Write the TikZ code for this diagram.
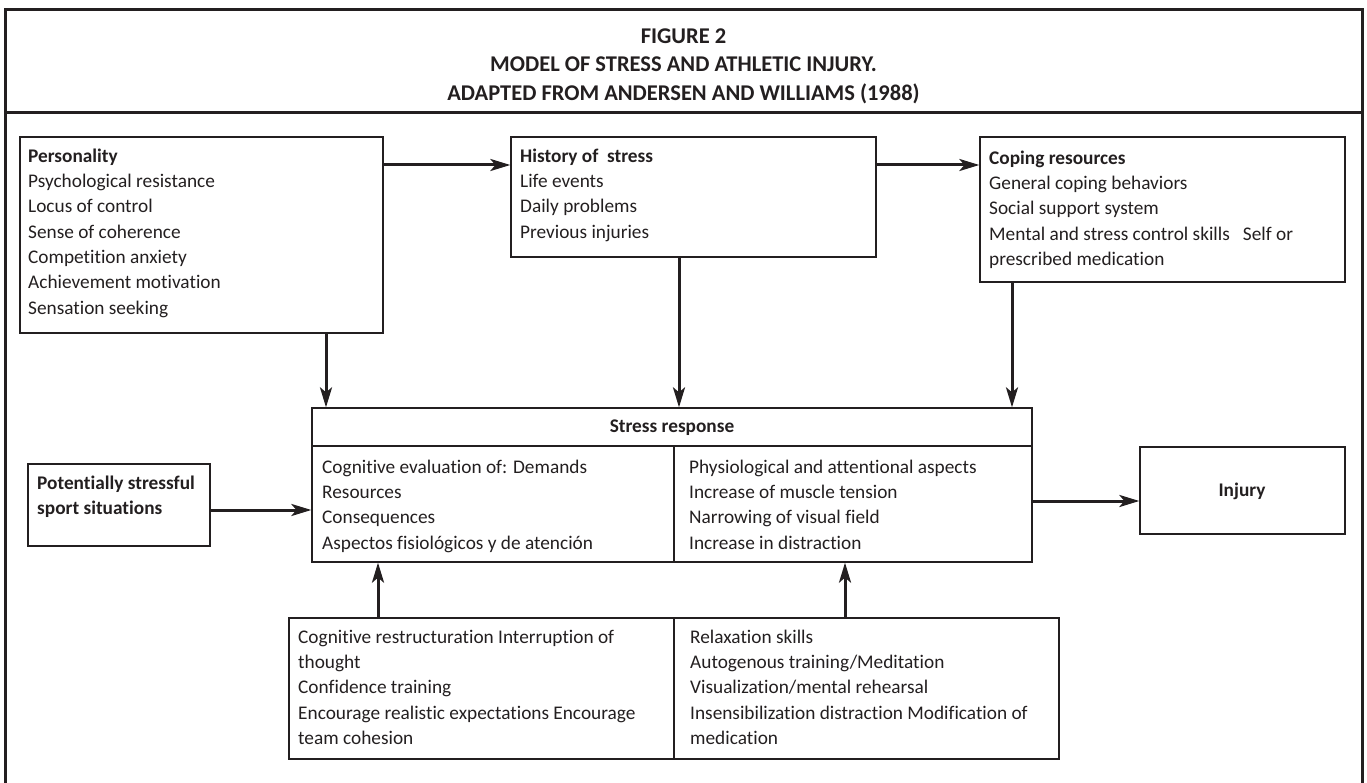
\documentclass[tikz,border=0pt]{standalone}
\usepackage{fontspec}
\setmainfont{Carlito}[Ligatures={NoCommon,NoContextual}]
\usetikzlibrary{arrows.meta,fit,calc}
\definecolor{ink}{HTML}{231F20}
\newcommand{\bodyfnt}{\fontsize{19.3}{25.3}\selectfont}
\newcommand{\ttlfnt}{\fontsize{22.5}{28.5}\selectfont\bfseries}
\tikzset{
  box/.style={draw=ink, line width=1.3pt, inner sep=0pt, fill=none},
  txt/.style={inner sep=0pt, align=left, anchor=north west, font=\bodyfnt, text=ink},
  hd/.style={inner sep=0pt, anchor=base, font=\bodyfnt\bfseries, text=ink},
  arr/.style={draw=ink, line width=3pt, -{Stealth[length=20pt,width=12pt,inset=5pt]}},
  frame/.style={draw=ink, line width=3pt}
}
\begin{document}
\begin{tikzpicture}[x=1pt,y=-1pt]
\useasboundingbox (0,0) rectangle (1367,783);
% outer frame
\draw[frame] (5,783) -- (5,10) -- (1362,10) -- (1362,783);
\draw[frame] (5,113) -- (1362,113);
\node[inner sep=0pt, anchor=north, align=center, font=\ttlfnt, text=ink] (title) at (683.5,23)
  {\strut FIGURE 2\\MODEL OF STRESS AND ATHLETIC INJURY.\\ADAPTED FROM ANDERSEN AND WILLIAMS (1988)};

% boxes
\node[box, fit={(20,137) (383,333)}] (pers) {};
\node[box, fit={(511,137) (876,257)}] (hist) {};
\node[box, fit={(980,137) (1345,282)}] (cop) {};
\node[box, fit={(312,408) (1032,562)}] (sr) {};
\node[box, fit={(28,464) (210,546)}] (pot) {};
\node[box, fit={(1140,447) (1345,534)}] (inj) {};
\node[box, fit={(289,618) (1059,759)}] (inter) {};

% inner lines
\draw[ink, line width=2.2pt] (sr.west |- 0,446) -- (sr.east |- 0,446);
\draw[ink, line width=1.3pt] (674,446) -- (sr.south -| 674,0);
\draw[ink, line width=1.3pt] (inter.north -| 674,0) -- (inter.south -| 674,0);

% texts
\node[txt] (perst) at (28,144.3) {\strut\textbf{Personality}\\Psychological resistance\\Locus of control\\Sense of coherence\\Competition anxiety\\Achievement motivation\\Sensation seeking};
\node[txt] (histt) at (520,144.3) {\strut\textbf{History of\ \ stress}\\Life events\\Daily problems\\Previous injuries};
\node[txt] (copt) at (989,146.3) {\strut\textbf{Coping resources}\\General coping behaviors\\Social support system\\Mental and stress control skills\ \ \ Self or\\prescribed medication};
\node[hd] (srt) at (672,432) {Stress response};
\node[txt] (srl) at (322,455.3) {\strut Cognitive evaluation of: Demands\\Resources\\Consequences\\Aspectos fisiológicos y de atención};
\node[txt] (srr) at (689,455.3) {\strut Physiological and attentional aspects\\Increase of muscle tension\\Narrowing of visual field\\Increase in distraction};
\node[txt, font=\bodyfnt\bfseries] (pott) at (37,471.3) {\strut Potentially stressful\\sport situations};
\node[hd] (injt) at (1242,496) {Injury};
\node[txt] (intl) at (298,625.3) {\strut Cognitive restructuration Interruption of\\thought\\Confidence training\\Encourage realistic expectations Encourage\\team cohesion};
\node[txt] (intr) at (690,625.3) {\strut Relaxation skills\\Autogenous training/Meditation\\Visualization/mental rehearsal\\Insensibilization distraction Modification of\\medication};

% connectors
\draw[arr] (pers.east |- 0,165) -- (hist.west |- 0,165);
\draw[arr] (hist.east |- 0,165) -- (cop.west |- 0,165);
\draw[arr] (pers.south -| 326,0) -- (sr.north -| 326,0);
\draw[arr] (hist.south -| 679,0) -- (sr.north -| 679,0);
\draw[arr] (cop.south -| 1012,0) -- (sr.north -| 1012,0);
\draw[arr] (pot.east |- 0,510) -- (sr.west |- 0,510);
\draw[arr] (sr.east |- 0,501) -- (inj.west |- 0,501);
\draw[arr] (inter.north -| 378,0) -- (sr.south -| 378,0);
\draw[arr] (inter.north -| 845,0) -- (sr.south -| 845,0);
\end{tikzpicture}
\end{document}
